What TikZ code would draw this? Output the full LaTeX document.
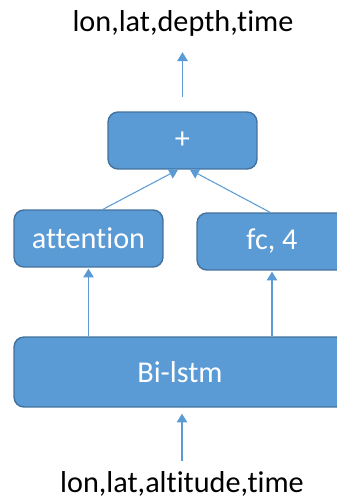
\documentclass[tikz,border=0pt]{standalone}
\usepackage{fontspec}
\setmainfont{Carlito}[Ligatures=NoCommon]
\usetikzlibrary{arrows.meta}

\definecolor{boxfill}{HTML}{5B9BD5}
\definecolor{boxline}{HTML}{41719C}

\begin{document}
\begin{tikzpicture}[x=0.02cm,y=0.02cm]
\tikzset{
  every node/.style={font=\fontsize{17.2}{20}\selectfont},
  layer/.style={draw=boxline,fill=boxfill,line width=0.8pt,rounded corners=0.2cm,
    text=white,inner sep=0pt,minimum width=2.98cm,minimum height=1.14cm},
  label/.style={inner sep=0pt,anchor=base},
  flow/.style={draw=boxfill,line width=0.6pt,-{Triangle[length=5pt,width=6pt]}}
}
\useasboundingbox (0,0) rectangle (337,-500);
% input and output
\node [label] (inp) at (182,-492) {lon,lat,altitude,time};
\node [label] (out) at (183,-32) {lon,lat,depth,time};
% layers
\node [layer,minimum width=6.64cm,minimum height=1.4cm] (lstm) at (180,-372) {Bi-lstm};
\node [layer] (att) at (88.5,-238.5) {attention};
\node [layer,minimum width=3cm] (fc) at (272,-241.5) {fc, 4};
\node [layer] (sum) at (182.5,-140.5) {+};
% arrows
\draw [flow,shorten <=0.2cm,shorten >=0.12cm] (inp.north) -- (inp.north |- lstm.south);
\draw [flow,shorten >=0.02cm] (att.south |- lstm.north) -- (att.south);
\draw [flow,shorten >=0.02cm] (fc.south |- lstm.north) -- (fc.south);
\draw [flow] ([xshift=0.29cm]att.north) -- ([xshift=-0.09cm]sum.south);
\draw [flow] ([xshift=-0.04cm]fc.north) -- ([xshift=0.15cm]sum.south);
\draw [flow,shorten <=0.28cm,shorten >=0.3cm] (sum.north) -- (sum.north |- out.south);
\end{tikzpicture}
\end{document}
